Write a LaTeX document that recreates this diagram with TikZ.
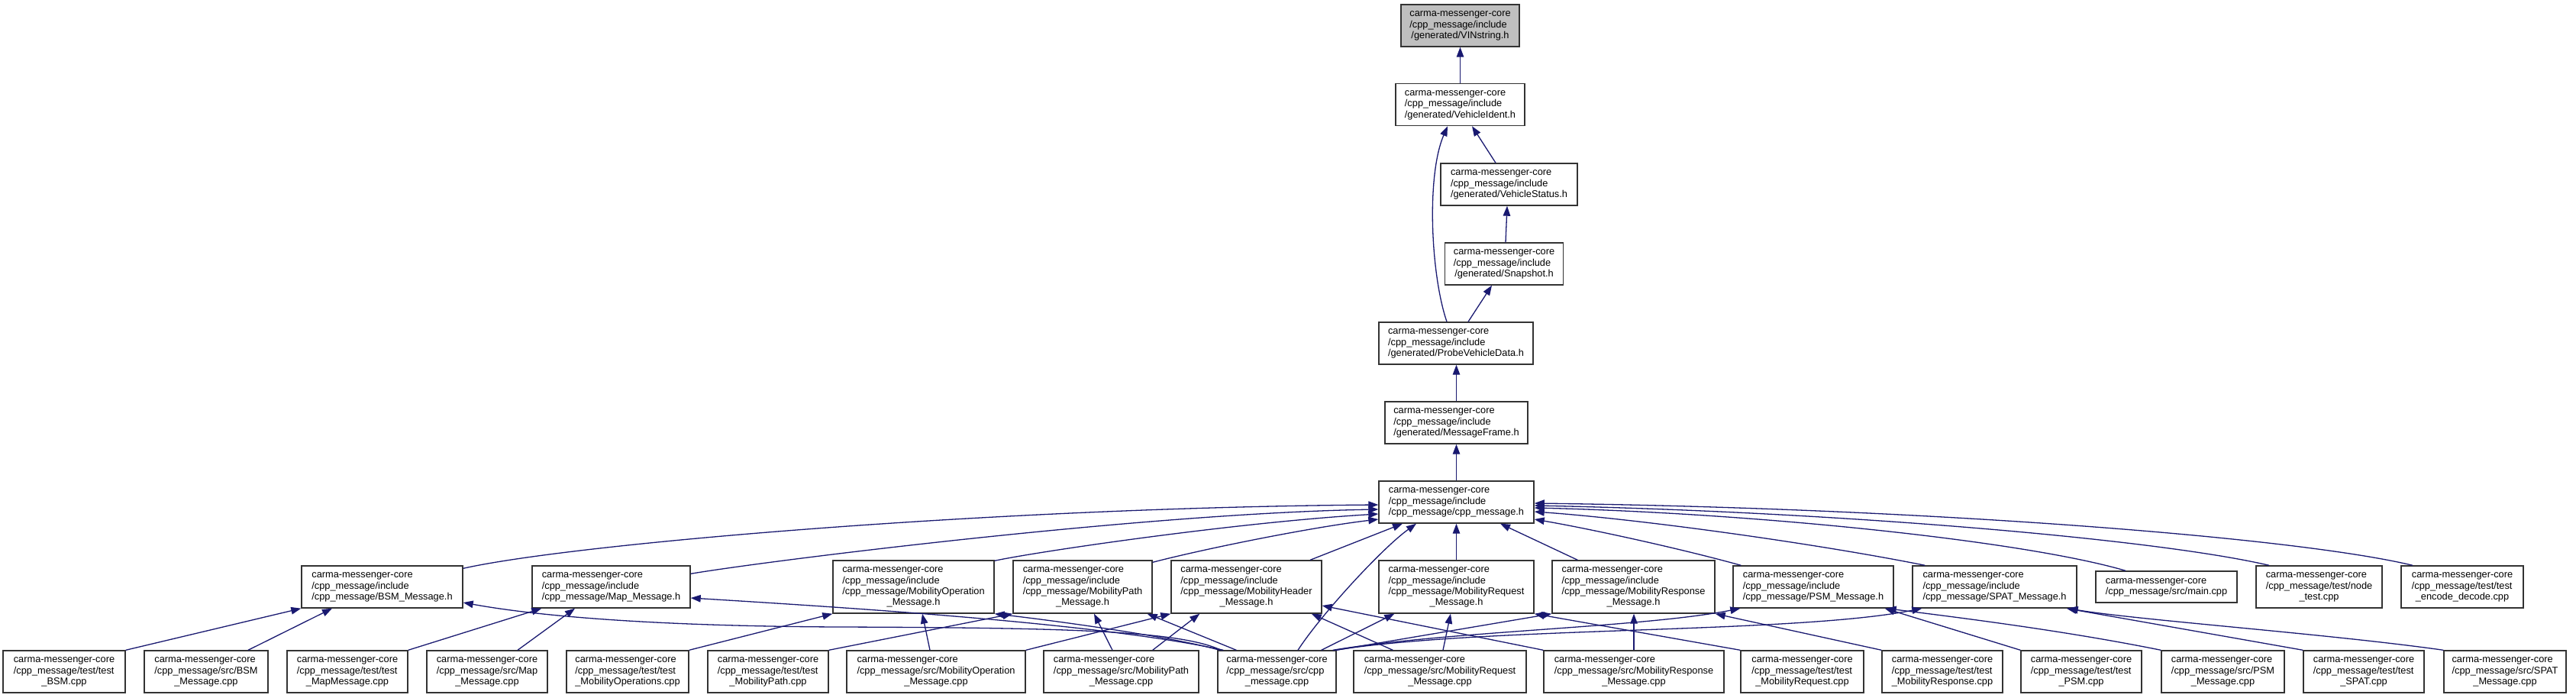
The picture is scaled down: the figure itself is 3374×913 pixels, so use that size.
\documentclass[tikz,border=0pt]{standalone}
\usepackage{fontspec}
\setmainfont{Liberation Sans}
\usetikzlibrary{arrows.meta}
\definecolor{edgecol}{HTML}{191970}
\definecolor{rootfill}{HTML}{BFBFBF}
\definecolor{boxline}{HTML}{333333}
\newcommand{\lab}[2]{\fontsize{12.8}{14.4}\selectfont\begin{tabular}{@{}l@{}}#1\\\multicolumn{1}{@{}c@{}}{#2}\end{tabular}}
\tikzset{
  box/.style={draw=boxline, line width=1.4pt, fill=white, inner sep=0pt, minimum height=55pt, anchor=center},
  rootbox/.style={box, fill=rootfill},
  tall/.style={minimum height=69pt},
  short/.style={minimum height=41pt},
  edge/.style={draw=edgecol, line width=1.3pt, -{Triangle[length=13pt,width=9.5pt]}}
}
\begin{document}
\begin{tikzpicture}[x=1pt,y=-1pt]
\useasboundingbox (0,0) rectangle (3374,913);
% top chain
\node[rootbox, minimum width=155pt] (vin) at (1912.5,33.5) {\lab{carma-messenger-core\\/cpp\_message/include}{/generated/VINstring.h}};
\node[box, minimum width=169pt] (vid) at (1912.5,137) {\lab{carma-messenger-core\\/cpp\_message/include}{/generated/VehicleIdent.h}};
\node[box, minimum width=179pt] (vstat) at (1976.5,241.5) {\lab{carma-messenger-core\\/cpp\_message/include}{/generated/VehicleStatus.h}};
\node[box, minimum width=155pt] (snap) at (1970,345.5) {\lab{carma-messenger-core\\/cpp\_message/include}{/generated/Snapshot.h}};
\node[box, minimum width=202pt] (probe) at (1907,449.5) {\lab{carma-messenger-core\\/cpp\_message/include}{/generated/ProbeVehicleData.h}};
\node[box, minimum width=187pt] (mframe) at (1907.5,553.5) {\lab{carma-messenger-core\\/cpp\_message/include}{/generated/MessageFrame.h}};
\node[box, minimum width=203pt] (cpph) at (1907.5,657.5) {\lab{carma-messenger-core\\/cpp\_message/include}{/cpp\_message/cpp\_message.h}};
% middle row
\node[box, minimum width=211pt] (m1) at (500.5,768.5) {\lab{carma-messenger-core\\/cpp\_message/include}{/cpp\_message/BSM\_Message.h}};
\node[box, minimum width=207pt] (m2) at (800.5,768.5) {\lab{carma-messenger-core\\/cpp\_message/include}{/cpp\_message/Map\_Message.h}};
\node[box, tall, minimum width=211pt] (m3) at (1196.5,768.5) {\lab{carma-messenger-core\\/cpp\_message/include\\/cpp\_message/MobilityOperation}{\_Message.h}};
\node[box, tall, minimum width=182pt] (m4) at (1418,768.5) {\lab{carma-messenger-core\\/cpp\_message/include\\/cpp\_message/MobilityPath}{\_Message.h}};
\node[box, tall, minimum width=197pt] (m5) at (1632.5,768.5) {\lab{carma-messenger-core\\/cpp\_message/include\\/cpp\_message/MobilityHeader}{\_Message.h}};
\node[box, tall, minimum width=203pt] (m6) at (1907.5,768.5) {\lab{carma-messenger-core\\/cpp\_message/include\\/cpp\_message/MobilityRequest}{\_Message.h}};
\node[box, tall, minimum width=213pt] (m7) at (2139.5,768.5) {\lab{carma-messenger-core\\/cpp\_message/include\\/cpp\_message/MobilityResponse}{\_Message.h}};
\node[box, minimum width=210pt] (m8) at (2375,768.5) {\lab{carma-messenger-core\\/cpp\_message/include}{/cpp\_message/PSM\_Message.h}};
\node[box, minimum width=215pt] (m9) at (2612.5,768.5) {\lab{carma-messenger-core\\/cpp\_message/include}{/cpp\_message/SPAT\_Message.h}};
\node[box, short, minimum width=185pt] (main) at (2837.5,768.5) {\lab{carma-messenger-core}{/cpp\_message/src/main.cpp}};
\node[box, minimum width=165pt] (nt) at (3037.5,768.5) {\lab{carma-messenger-core\\/cpp\_message/test/node}{\_test.cpp}};
\node[box, minimum width=160pt] (ed) at (3225,768.5) {\lab{carma-messenger-core\\/cpp\_message/test/test}{\_encode\_decode.cpp}};
% bottom row
\node[box, minimum width=160pt] (b1) at (84,879.5) {\lab{carma-messenger-core\\/cpp\_message/test/test}{\_BSM.cpp}};
\node[box, minimum width=162pt] (b2) at (270,879.5) {\lab{carma-messenger-core\\/cpp\_message/src/BSM}{\_Message.cpp}};
\node[box, minimum width=158pt] (b3) at (455,879.5) {\lab{carma-messenger-core\\/cpp\_message/test/test}{\_MapMessage.cpp}};
\node[box, minimum width=158pt] (b4) at (638,879.5) {\lab{carma-messenger-core\\/cpp\_message/src/Map}{\_Message.cpp}};
\node[box, minimum width=160pt] (b5) at (822,879.5) {\lab{carma-messenger-core\\/cpp\_message/test/test}{\_MobilityOperations.cpp}};
\node[box, minimum width=158pt] (b6) at (1006,879.5) {\lab{carma-messenger-core\\/cpp\_message/test/test}{\_MobilityPath.cpp}};
\node[box, minimum width=234pt] (b7) at (1226,879.5) {\lab{carma-messenger-core\\/cpp\_message/src/MobilityOperation}{\_Message.cpp}};
\node[box, minimum width=203pt] (b8) at (1468.5,879.5) {\lab{carma-messenger-core\\/cpp\_message/src/MobilityPath}{\_Message.cpp}};
\node[box, minimum width=155pt] (b9) at (1672.5,879.5) {\lab{carma-messenger-core\\/cpp\_message/src/cpp}{\_message.cpp}};
\node[box, minimum width=226pt] (b10) at (1886,879.5) {\lab{carma-messenger-core\\/cpp\_message/src/MobilityRequest}{\_Message.cpp}};
\node[box, minimum width=236pt] (b11) at (2140,879.5) {\lab{carma-messenger-core\\/cpp\_message/src/MobilityResponse}{\_Message.cpp}};
\node[box, minimum width=161pt] (b12) at (2360.5,879.5) {\lab{carma-messenger-core\\/cpp\_message/test/test}{\_MobilityRequest.cpp}};
\node[box, minimum width=158pt] (b13) at (2544,879.5) {\lab{carma-messenger-core\\/cpp\_message/test/test}{\_MobilityResponse.cpp}};
\node[box, minimum width=158pt] (b14) at (2726,879.5) {\lab{carma-messenger-core\\/cpp\_message/test/test}{\_PSM.cpp}};
\node[box, minimum width=161pt] (b15) at (2911.5,879.5) {\lab{carma-messenger-core\\/cpp\_message/src/PSM}{\_Message.cpp}};
\node[box, minimum width=158pt] (b16) at (3096,879.5) {\lab{carma-messenger-core\\/cpp\_message/test/test}{\_SPAT.cpp}};
\node[box, minimum width=160pt] (b17) at (3281,879.5) {\lab{carma-messenger-core\\/cpp\_message/src/SPAT}{\_Message.cpp}};
% top chain edges
\draw[edge] (vid.north) -- (vin.south);
\draw[edge] ([xshift=-17.5pt]vstat.north) -- ([xshift=15.5pt]vid.south);
\draw[edge] ([xshift=2pt]snap.north) -- ([xshift=-2.5pt]vstat.south);
\draw[edge] ([xshift=16pt]probe.north) -- ([xshift=-16pt]snap.south);
\draw[edge] ([xshift=-12pt]probe.north) .. controls (1874,360) and (1868,230) .. ([xshift=-16.5pt]vid.south);
\draw[edge] (mframe.north) -- (mframe.north |- probe.south);
\draw[edge] (cpph.north) -- (mframe.south);
% edges to cpp_message.h
\draw[edge] ([yshift=-4pt]m1.north east) .. controls (750,712) and (1300,665) .. ([yshift=-3.5pt]cpph.west);
\draw[edge] ([yshift=-11pt]m2.north east) .. controls (1000,735) and (1500,672) .. ([yshift=-9.5pt]cpph.west);
\draw[edge] ([yshift=-1pt]m3.north east) .. controls (1360,722) and (1620,684) .. ([yshift=-15.5pt]cpph.west);
\draw[edge] ([yshift=-3pt]m4.north east) .. controls (1580,718) and (1720,690) .. ([yshift=-22.5pt]cpph.west);
\draw[edge] ([xshift=83.5pt]m5.north) -- ([xshift=-70.5pt]cpph.south);
\draw[edge] ([xshift=27.5pt]b9.north) .. controls (1730,805) and (1810,718) .. ([xshift=-52.5pt]cpph.south);
\draw[edge] (m6.north) -- (cpph.south);
\draw[edge] ([xshift=34pt]m7.north west) -- ([xshift=57.5pt]cpph.south);
\draw[edge] ([xshift=11pt]m8.north west) .. controls (2200,718) and (2080,692) .. ([yshift=-22.5pt]cpph.east);
\draw[edge] ([xshift=17pt]m9.north west) .. controls (2380,712) and (2150,680) .. ([yshift=-12.5pt]cpph.east);
\draw[edge] ([xshift=-53.5pt]main.north) .. controls (2650,708) and (2300,672) .. ([yshift=-7.5pt]cpph.east);
\draw[edge] ([xshift=-65.5pt]nt.north) .. controls (2820,705) and (2400,670) .. ([yshift=-4.5pt]cpph.east);
\draw[edge] ([xshift=-65pt]ed.north) .. controls (3000,702) and (2500,665) .. ([yshift=-1.5pt]cpph.east);
% bottom edges
\draw[edge] (b1.north east) -- (m1.south west);
\draw[edge] ([xshift=55pt]b2.north) -- ([xshift=-65.5pt]m1.south);
\draw[edge] ([xshift=5pt]b9.north west) .. controls (1545,826) and (1400,822) .. (1100,821) .. controls (850,820) and (700,806) .. ([yshift=-20.5pt]m1.east);
\draw[edge] ([xshift=8pt]b9.north west) .. controls (1450,818) and (1150,798) .. ([yshift=-14.5pt]m2.east);
\draw[edge] (b3.north east) -- ([xshift=13pt]m2.south west);
\draw[edge] ([xshift=40pt]b4.north) -- ([xshift=-47.5pt]m2.south);
\draw[edge] (b5.north east) -- (m3.south west);
\draw[edge] ([xshift=-8pt]b7.north) -- ([xshift=11.5pt]m3.south);
\draw[edge] ([xshift=3pt]b9.north west) .. controls (1540,835) and (1400,815) .. (m3.south east);
\draw[edge] (b6.north east) -- (m4.south west);
\draw[edge] ([xshift=-11.5pt]b8.north) -- ([xshift=15pt]m4.south);
\draw[edge] ([xshift=25pt]b9.north west) -- ([xshift=-7pt]m4.south east);
\draw[edge] (b7.north east) -- (m5.south west);
\draw[edge] ([xshift=-61pt]b8.north east) -- ([xshift=38pt]m5.south west);
\draw[edge] ([xshift=52pt]b10.north west) -- ([xshift=-14pt]m5.south east);
\draw[edge] (b11.north west) -- ([yshift=-24.5pt]m5.east);
\draw[edge] ([xshift=-20pt]b9.north east) -- ([xshift=21pt]m6.south west);
\draw[edge] ([xshift=4pt]b10.north) -- ([xshift=-7.5pt]m6.south);
\draw[edge] (b12.north west) -- (m6.south east);
\draw[edge] (b9.north east) -- (m7.south west);
\draw[edge] (b11.north) -- (b11.north |- m7.south);
\draw[edge] (b13.north west) -- (m7.south east);
\draw[edge] ([xshift=-5pt]b9.north east) .. controls (1900,826) and (2150,822) .. ([xshift=10pt]m8.south west);
\draw[edge] ([xshift=-2pt]b9.north east) .. controls (1950,820) and (2350,830) .. ([xshift=13pt]m9.south west);
\draw[edge] (b14.north west) -- ([xshift=-12pt]m8.south east);
\draw[edge] (b15.north west) .. controls (2700,825) and (2560,808) .. ([xshift=-10pt]m8.south east);
\draw[edge] (b16.north west) -- ([xshift=-14pt]m9.south east);
\draw[edge] (b17.north west) .. controls (3050,830) and (2800,812) .. ([xshift=-12pt]m9.south east);
\end{tikzpicture}
\end{document}
